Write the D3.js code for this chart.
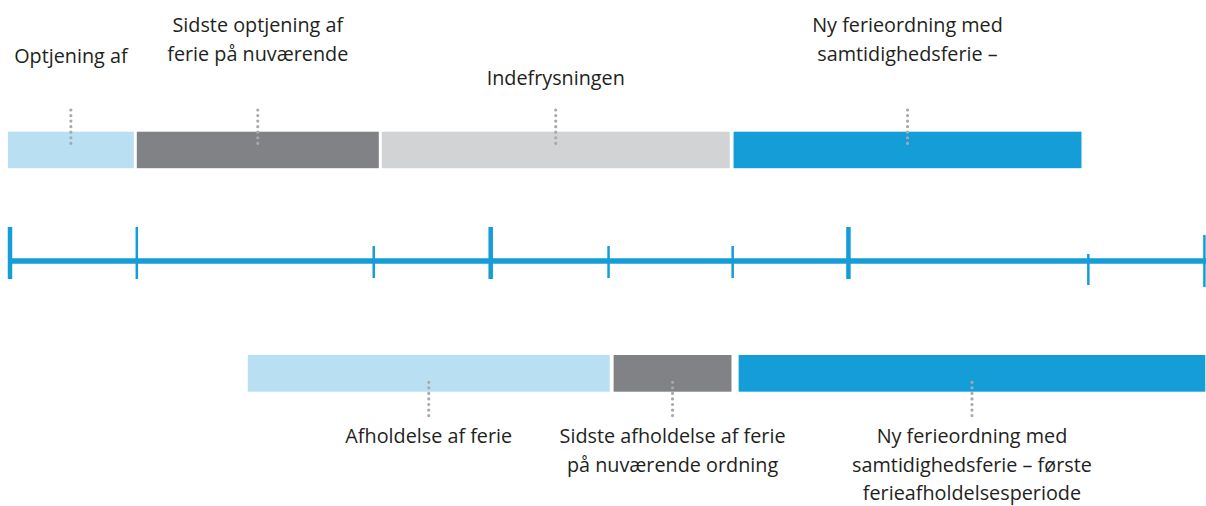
<!DOCTYPE html>
<html lang="da">
<head>
  <meta charset="UTF-8">
  <title>Ferieloven - overgangsordning</title>
  <script src="https://d3js.org/d3.v7.min.js"></script>
  <style>
    body { margin: 0; background: #fff; }
    svg { display: block; font-family: "Open Sans", sans-serif; }
    .label { font-size: 19.8px; fill: #231f20; }
  </style>
</head>
<body>
  <svg width="1206" height="506"></svg>

  <script>
    // tidsakse i maaneder fra jan 2018 (aflaest fra billedet)
    const topKinds  = ["optjening", "sidste", "indefrysning", "ny"];
    const topStart  = [7.68, 12.0, 20.21, 32.0];
    const topEnd    = [11.9, 20.11, 31.87, 43.66];
    const topLabels = [
      ["Optjening af"],
      ["Sidste optjening af", "ferie på nuværende"],
      ["Indefrysningen"],
      ["Ny ferieordning med", "samtidighedsferie –"]
    ];

    const bottomKinds  = ["optjening", "sidste", "ny"];
    const bottomStart  = [15.72, 27.98, 32.17];
    const bottomEnd    = [27.85, 31.93, 47.81];
    const bottomLabels = [
      ["Afholdelse af ferie"],
      ["Sidste afholdelse af ferie", "på nuværende ordning"],
      ["Ny ferieordning med", "samtidighedsferie – første", "ferieafholdelsesperiode"]
    ];

    const tickValues = [7.75, 12, 19.94, 23.86, 27.81, 31.97, 35.85, 43.89, 47.78];
    const tickKinds  = ["major", "mid", "minor", "major", "minor", "minor", "major", "low", "end"];

    const svg = d3.select("svg"),
          width = +svg.attr("width");

    const x = d3.scaleLinear().domain([7.75, 47.8]).range([10, 1205]);

    const color = d3.scaleOrdinal()
      .domain(["optjening", "sidste", "indefrysning", "ny"])
      .range(["#b8e0f2", "#808285", "#d1d3d4", "#159dd8"]);

    // tick udseende
    const tickStyle = {
      major: { y1: 227, y2: 279, w: 4.5 },
      mid:   { y1: 227, y2: 279, w: 2.5 },
      minor: { y1: 246, y2: 278, w: 2.5 },
      low:   { y1: 254, y2: 285, w: 2.5 },
      end:   { y1: 235, y2: 287, w: 2.5 }
    };

    const lineY = 261;
    const lineH = 28.5;

    // --- tidslinje
    const axis = svg.append("g");
    axis.append("line")
      .attr("x1", x(x.domain()[0]))
      .attr("x2", width)
      .attr("y1", lineY)
      .attr("y2", lineY)
      .attr("stroke", "#159dd8")
      .attr("stroke-width", 5.4);

    axis.selectAll("line.tick")
      .data(tickValues.map((v, i) => ({ v, kind: tickKinds[i] })))
      .join("line")
      .attr("class", "tick")
      .attr("x1", d => x(d.v))
      .attr("x2", d => x(d.v))
      .attr("y1", d => tickStyle[d.kind].y1)
      .attr("y2", d => tickStyle[d.kind].y2)
      .attr("stroke", "#159dd8")
      .attr("stroke-width", d => tickStyle[d.kind].w);

    // --- perioder
    function drawRow(kinds, starts, ends, labels, barTop, barH, dotY1, dotY2, labelY) {
      const rows = kinds.map((k, i) => ({
        kind: k, start: starts[i], end: ends[i], lines: labels[i], baseline: labelY[i]
      }));

      const g = svg.append("g");

      g.selectAll("rect")
        .data(rows)
        .join("rect")
        .attr("x", d => x(d.start))
        .attr("y", barTop)
        .attr("width", d => x(d.end) - x(d.start))
        .attr("height", barH)
        .attr("fill", d => color(d.kind));

      g.selectAll("line.dots")
        .data(rows)
        .join("line")
        .attr("class", "dots")
        .attr("x1", d => (x(d.start) + x(d.end)) / 2)
        .attr("x2", d => (x(d.start) + x(d.end)) / 2)
        .attr("y1", dotY1)
        .attr("y2", dotY2)
        .attr("stroke", "#a7a9ac")
        .attr("stroke-width", 3.2)
        .attr("stroke-linecap", "round")
        .attr("stroke-dasharray", "0 5.55");

      g.selectAll("text")
        .data(rows)
        .join("text")
        .attr("class", "label")
        .attr("text-anchor", "middle")
        .attr("x", d => (x(d.start) + x(d.end)) / 2)
        .attr("y", d => d.baseline)
        .selectAll("tspan")
        .data(d => d.lines.map((t, j) => ({ t, j, cx: (x(d.start) + x(d.end)) / 2 })))
        .join("tspan")
        .attr("x", d => d.cx)
        .attr("dy", d => d.j === 0 ? 0 : lineH)
        .text(d => d.t);
    }

    // oeverste raekke: teksten staar over bjaelkerne, bundlinje givet pr. label
    drawRow(topKinds, topStart, topEnd, topLabels, 131.7, 36.5, 110, 143.4,
      topLabels.map((l, i) => [63, 63, 85, 63][i] - (l.length - 1) * 31));
    drawRow(bottomKinds, bottomStart, bottomEnd, bottomLabels, 355, 36.7, 382.3, 415.8,
      bottomLabels.map(() => 443));
  </script>
</body>
</html>
